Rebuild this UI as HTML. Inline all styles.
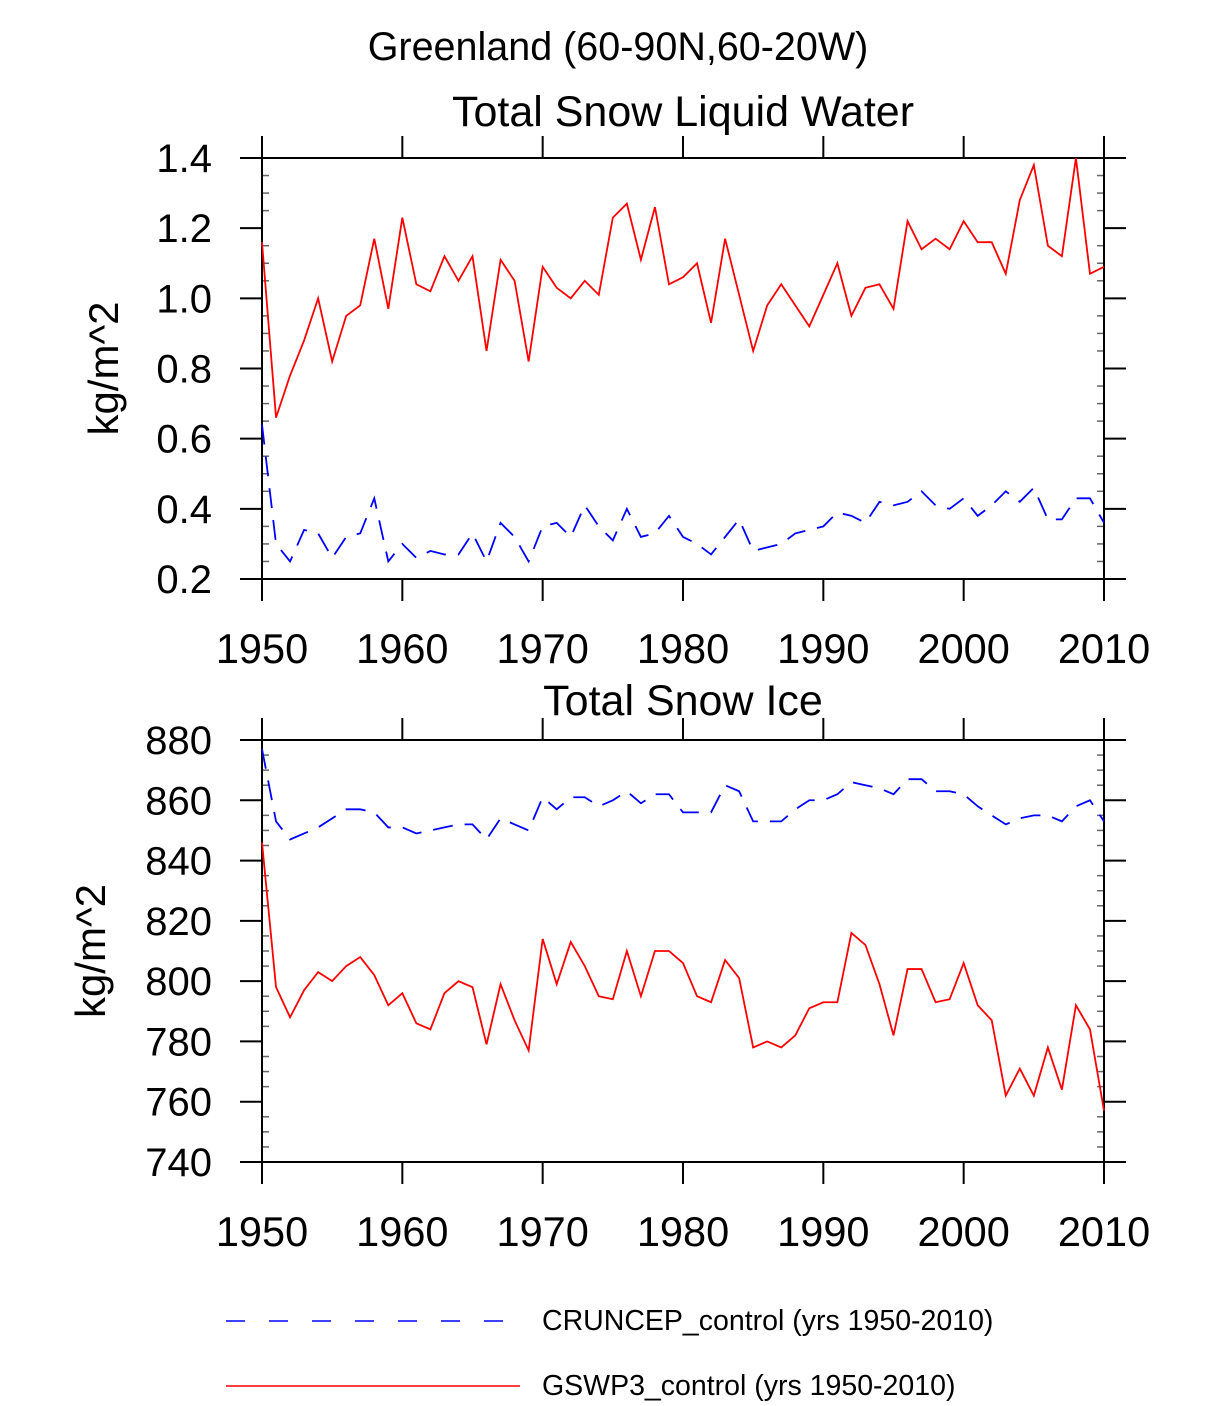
<!DOCTYPE html>
<html><head><meta charset="utf-8"><style>
body{margin:0;background:#fff}
svg text{font-family:"Liberation Sans",sans-serif;fill:#000}
</style></head><body>
<svg id="chart" width="1224" height="1401" viewBox="0 0 1224 1401" xmlns="http://www.w3.org/2000/svg">
<text x="618" y="60" font-size="39.5" text-anchor="middle">Greenland (60-90N,60-20W)</text>
<g id="p1"></g>
<g id="p2"></g>
<g>
<line x1="226" y1="1321" x2="510" y2="1321" stroke="#00f" stroke-width="1.5" stroke-dasharray="19,24"/>
<text x="542" y="1330" font-size="28.5">CRUNCEP_control (yrs 1950-2010)</text>
<line x1="226" y1="1386" x2="520" y2="1386" stroke="#f00" stroke-width="1.5"/>
<text x="542" y="1395" font-size="28.5">GSWP3_control (yrs 1950-2010)</text>
</g>
</svg>
<script>
const years=[];for(let y=1950;y<=2010;y++)years.push(y);
const xTicks=[1950,1960,1970,1980,1990,2000,2010];
const lwTicks=[0.2,0.4,0.6,0.8,1.0,1.2,1.4];
const lwTickLabels=["0.2","0.4","0.6","0.8","1.0","1.2","1.4"];
const iceTicks=[740,760,780,800,820,840,860,880];
const lwGswp3=[1.16,0.66,0.78,0.88,1.0,0.82,0.95,0.98,1.17,0.97,1.23,1.04,1.02,1.12,1.05,1.12,0.85,1.11,1.05,0.82,1.09,1.03,1.00,1.05,1.01,1.23,1.27,1.11,1.26,1.04,1.06,1.10,0.93,1.17,1.01,0.85,0.98,1.04,0.98,0.92,1.01,1.10,0.95,1.03,1.04,0.97,1.22,1.14,1.17,1.14,1.22,1.16,1.16,1.07,1.28,1.38,1.15,1.12,1.40,1.07,1.09];
const lwCruncep=[0.64,0.30,0.25,0.34,0.33,0.26,0.32,0.33,0.43,0.25,0.30,0.26,0.28,0.27,0.27,0.33,0.25,0.36,0.32,0.25,0.35,0.36,0.32,0.41,0.35,0.31,0.40,0.32,0.33,0.38,0.32,0.30,0.27,0.32,0.37,0.28,0.29,0.30,0.33,0.34,0.35,0.39,0.38,0.36,0.42,0.41,0.42,0.45,0.41,0.40,0.43,0.38,0.41,0.45,0.42,0.46,0.37,0.37,0.43,0.43,0.36];
const iceCruncep=[877,853,847,849,851,854,857,857,856,851,851,849,850,851,852,852,847,854,852,850,861,857,861,861,858,860,863,859,862,862,856,856,856,865,863,853,853,853,857,860,860,862,866,865,864,862,867,867,863,863,862,858,855,852,854,855,855,853,858,860,853];
const iceGswp3=[846,798,788,797,803,800,805,808,802,792,796,786,784,796,800,798,779,799,787,777,814,799,813,805,795,794,810,795,810,810,806,795,793,807,801,778,780,778,782,791,793,793,816,812,799,782,804,804,793,794,806,792,787,762,771,762,778,764,792,784,757];

const NS="http://www.w3.org/2000/svg";
function mk(parent,tag,attrs){const e=document.createElementNS(NS,tag);for(const k in attrs)e.setAttribute(k,attrs[k]);parent.appendChild(e);return e;}
const X0=262,X1=1104;
function xs(v){return X0+(v-1950)/(2010-1950)*(X1-X0);}
function panel(g,top,bot,ymin,ymax,ticks,labels,title,titleY,ytX,s1,s2){
  const ys=v=>bot-(v-ymin)/(ymax-ymin)*(bot-top);
  const t=mk(g,'text',{x:683,y:titleY,'font-size':43,'text-anchor':'middle'});t.textContent=title;
  
  
  const yt=mk(g,'text',{transform:`translate(${ytX},${(top+bot)/2}) rotate(-90)`,'font-size':42,'text-anchor':'middle'});yt.textContent='kg/m^2';
  
  
  const step=(ticks[1]-ticks[0])/4;
  for(let v=ymin;v<=ymax+1e-9;v+=step){
    const y=ys(v);const maj=Math.abs(((v-ymin)/(ticks[1]-ticks[0]))-Math.round((v-ymin)/(ticks[1]-ticks[0])))<1e-6;
    if(maj){mk(g,'line',{x1:X0-22,x2:X0,y1:y,y2:y,stroke:'#000','stroke-width':2});mk(g,'line',{x1:X1,x2:X1+22,y1:y,y2:y,stroke:'#000','stroke-width':2});}
    else{mk(g,'line',{x1:X0,x2:X0+7,y1:y,y2:y,stroke:'#666','stroke-width':1.5});mk(g,'line',{x1:X1-7,x2:X1,y1:y,y2:y,stroke:'#666','stroke-width':1.5});}
  }
  ticks.forEach((v,i)=>{const l=mk(g,'text',{x:212,y:ys(v)+14,'font-size':40,'text-anchor':'end'});l.textContent=labels[i];
    
    });
  xTicks.forEach(v=>{const x=xs(v);mk(g,'line',{x1:x,x2:x,y1:top-22,y2:top,stroke:'#000','stroke-width':2});mk(g,'line',{x1:x,x2:x,y1:bot,y2:bot+22,stroke:'#000','stroke-width':2});
    const l=mk(g,'text',{x:x,y:bot+84,'font-size':41.5,'text-anchor':'middle'});l.textContent=v;
    
    });
  const r=mk(g,'rect',{x:X0,y:top,width:X1-X0,height:bot-top,fill:'none',stroke:'#000','stroke-width':2});
  
  
  const p1=mk(g,'polyline',{points:years.map((y,i)=>xs(y)+','+ys(s1[i])).join(' '),fill:'none',stroke:'#00f','stroke-width':1.8,'stroke-dasharray':'20,12'});
  
  
  const p2=mk(g,'polyline',{points:years.map((y,i)=>xs(y)+','+ys(s2[i])).join(' '),fill:'none',stroke:'#f00','stroke-width':1.8});
  
  
}
panel(document.getElementById('p1'),158,579,0.2,1.4,lwTicks,lwTickLabels,'Total Snow Liquid Water',126,118,lwCruncep,lwGswp3);
panel(document.getElementById('p2'),740,1162,740,880,iceTicks,iceTicks.map(String),'Total Snow Ice',715,105,iceCruncep,iceGswp3);
</script>
</body></html>
